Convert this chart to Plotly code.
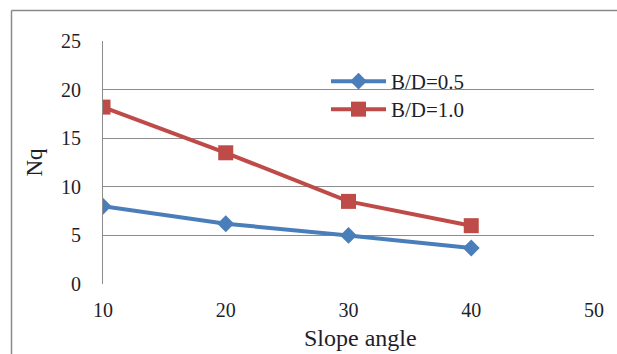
import plotly.graph_objects as go

slope_angle = [10, 20, 30, 40]
nq_bd05 = [8.0, 6.2, 5.0, 3.7]
nq_bd10 = [18.2, 13.5, 8.5, 6.0]
series_names = ["B/D=0.5", "B/D=1.0"]
x_ticks = [10, 20, 30, 40, 50]
y_ticks = [0, 5, 10, 15, 20, 25]
x_title = "Slope angle"
y_title = "Nq"

BLUE = "#4A7EBB"
RED = "#BE4B48"
GRID = "#8C8C8C"
FONT = "Liberation Serif"
TXT = "#1E1E2A"

fig = go.Figure()
fig.add_trace(go.Scatter(
    x=slope_angle, y=nq_bd05, name=series_names[0], mode="lines+markers",
    line=dict(color=BLUE, width=4),
    marker=dict(symbol="diamond", size=13, color=BLUE),
    legend="legend",
))
fig.add_trace(go.Scatter(
    x=slope_angle, y=nq_bd10, name=series_names[1], mode="lines+markers",
    line=dict(color=RED, width=4),
    marker=dict(symbol="square", size=15, color=RED),
    legend="legend2",
))

L, R, T, B = 103, 23, 41, 70
W, H = 617, 354
pw, ph = W - L - R, H - T - B

def px_x(p):
    return (p - L) / pw

def px_y(p):
    return (H - B - p) / ph

# outer chart border (left and top edges visible)
fig.add_shape(type="line", xref="paper", yref="paper",
              x0=px_x(11.5), x1=px_x(640), y0=px_y(10.5), y1=px_y(10.5),
              line=dict(color="#8A8A8A", width=1.5))
fig.add_shape(type="line", xref="paper", yref="paper",
              x0=px_x(11.5), x1=px_x(11.5), y0=px_y(10.5), y1=px_y(370),
              line=dict(color="#8A8A8A", width=1.5))

fig.add_annotation(text=x_title, xref="paper", yref="paper",
                   x=px_x(360), y=px_y(338), xanchor="center", yanchor="middle",
                   showarrow=False, font=dict(family=FONT, size=24, color=TXT))

legend_common = dict(xanchor="left", yanchor="top", bgcolor="rgba(0,0,0,0)",
                     font=dict(family=FONT, size=21, color=TXT), itemwidth=55)

fig.update_layout(
    width=W, height=H,
    margin=dict(l=L, r=R, t=T, b=B),
    paper_bgcolor="white", plot_bgcolor="white",
    font=dict(family=FONT, size=20, color=TXT),
    showlegend=True,
    legend=dict(x=px_x(326), y=px_y(61), **legend_common),
    legend2=dict(x=px_x(326), y=px_y(89), **legend_common),
    xaxis=dict(
        range=[10, 50], tickvals=x_ticks, showgrid=False, zeroline=False,
        showline=False, ticks="", tickfont=dict(family=FONT, size=20),
        ticklabelstandoff=12,
    ),
    yaxis=dict(
        range=[0, 25], tickvals=y_ticks, showgrid=True, gridcolor=GRID, gridwidth=1.2,
        zeroline=False, showline=True, linecolor=GRID, linewidth=1.2, ticks="",
        tickfont=dict(family=FONT, size=20), ticklabelstandoff=17,
        title=dict(text=y_title, font=dict(family=FONT, size=23), standoff=11),
    ),
)
fig.write_html("out.html")
